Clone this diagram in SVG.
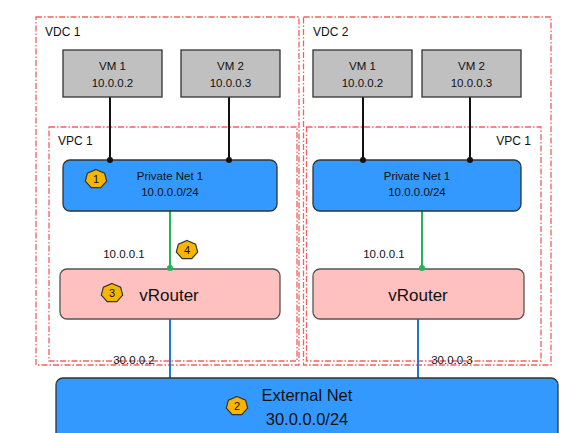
<svg xmlns="http://www.w3.org/2000/svg" width="562" height="433" viewBox="0 0 562 433">
<style>
text{font-family:"Liberation Sans",Arial,sans-serif;fill:#111}
.zone{fill:none;stroke:#f26060;stroke-width:1.3;stroke-dasharray:6 2 1.5 2}
.vm{fill:#c0c0c0;stroke:#333;stroke-width:1.3}
.net{fill:#3399ff;stroke:#333;stroke-width:1.3}
.rt{fill:#ffc0c0;stroke:#555;stroke-width:1.3}
.s{font-size:11.5px;text-anchor:middle}
.big{font-size:17px;text-anchor:middle}
.lbl{font-size:12px}
.badge{fill:#f7b500;stroke:#333;stroke-width:1.2}
.bt{font-size:11px;text-anchor:middle}
.blk{stroke:#111;stroke-width:2}
.grn{stroke:#22b45a;stroke-width:2}
.blu{stroke:#1f78c8;stroke-width:2}
</style>
<defs>
<polygon id="hept" class="badge" points="0,-9.5 8.6,-5.9 10.7,2.1 4.8,8.6 -4.8,8.6 -10.7,2.1 -8.6,-5.9"/>
</defs>
<rect width="562" height="433" fill="#fff"/>
<g id="zones">
<rect class="zone" x="36" y="17" width="263" height="348"/>
<rect class="zone" x="303.5" y="17" width="247.5" height="348"/>
<rect class="zone" x="49" y="127" width="248" height="234"/>
<rect class="zone" x="306.5" y="127" width="234.5" height="234"/>
<text class="lbl" x="45" y="36">VDC 1</text>
<text class="lbl" x="313" y="36">VDC 2</text>
<text class="lbl" x="58" y="145">VPC 1</text>
<text class="lbl" x="531" y="145" style="text-anchor:end">VPC 1</text>
</g>
<g id="connectors">
<line class="blk" x1="110" y1="97" x2="110" y2="160"/>
<line class="blk" x1="229" y1="97" x2="229" y2="160"/>
<line class="blk" x1="363" y1="97" x2="363" y2="160"/>
<line class="blk" x1="470" y1="97" x2="470" y2="160"/>
<line class="grn" x1="170" y1="211" x2="170" y2="268"/>
<line class="grn" x1="422" y1="211" x2="422" y2="268"/>
<line class="blu" x1="170" y1="319" x2="170" y2="378"/>
<line class="blu" x1="418" y1="319" x2="418" y2="378"/>
</g>
<g id="vm1a"><rect class="vm" x="63" y="50" width="99" height="47"/><text class="s" x="112.5" y="70">VM 1</text><text class="s" x="112.5" y="87">10.0.0.2</text></g>
<g id="vm2a"><rect class="vm" x="181" y="50" width="99" height="47"/><text class="s" x="230.5" y="70">VM 2</text><text class="s" x="230.5" y="87">10.0.0.3</text></g>
<g id="vm1b"><rect class="vm" x="313" y="50" width="99" height="47"/><text class="s" x="362.5" y="70">VM 1</text><text class="s" x="362.5" y="87">10.0.0.2</text></g>
<g id="vm2b"><rect class="vm" x="422" y="50" width="99" height="47"/><text class="s" x="471.5" y="70">VM 2</text><text class="s" x="471.5" y="87">10.0.0.3</text></g>
<g id="pnet1"><rect class="net" x="63" y="160" width="214" height="51" rx="7"/><text class="s" x="170" y="180">Private Net 1</text><text class="s" x="170" y="196">10.0.0.0/24</text>
<use href="#hept" x="96" y="179"/><text class="bt" x="96" y="183">1</text></g>
<g id="pnet2"><rect class="net" x="313" y="160" width="208" height="51" rx="7"/><text class="s" x="417" y="180">Private Net 1</text><text class="s" x="417" y="196">10.0.0.0/24</text></g>
<g id="router1"><rect class="rt" x="60" y="269" width="220" height="50" rx="7"/><text class="big" x="169" y="301">vRouter</text>
<use href="#hept" x="112" y="293"/><text class="bt" x="112" y="297">3</text></g>
<g id="router2"><rect class="rt" x="313" y="269" width="211" height="50" rx="7"/><text class="big" x="418" y="301">vRouter</text></g>
<g id="extnet"><rect class="net" x="56" y="378" width="502" height="62" rx="7"/><text class="big" x="307" y="401" style="font-size:16.5px">External Net</text><text class="big" x="307" y="425" style="font-size:16.5px">30.0.0.0/24</text>
<use href="#hept" x="237" y="406"/><text class="bt" x="237" y="410">2</text></g>
<g id="dots">
<circle cx="110" cy="160" r="3" fill="#111"/><circle cx="229" cy="160" r="3" fill="#111"/>
<circle cx="363" cy="160" r="3" fill="#111"/><circle cx="470" cy="160" r="3" fill="#111"/>
<circle cx="170" cy="268" r="3" fill="#22b45a"/><circle cx="422" cy="268" r="3" fill="#22b45a"/>
</g>
<g id="labels">
<text class="s" x="124" y="258">10.0.0.1</text>
<text class="s" x="384" y="258">10.0.0.1</text>
<text class="s" x="134" y="364">30.0.0.2</text>
<text class="s" x="452" y="364">30.0.0.3</text>
<use href="#hept" x="187" y="250"/><text class="bt" x="187" y="254">4</text>
</g>
</svg>
